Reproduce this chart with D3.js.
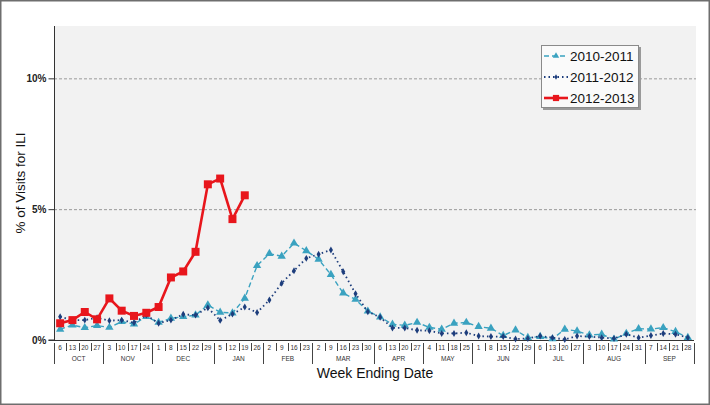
<!DOCTYPE html>
<html>
<head>
<meta charset="utf-8">
<script src="https://d3js.org/d3.v7.min.js"></script>
<style>
  body { margin: 0; background: #fff; }
  svg { display: block; font-family: "Liberation Sans", Arial, sans-serif; }
</style>
</head>
<body>
<script>
// week ending days, Oct -> Sep
var weekDays = [6, 13, 20, 27, 3, 10, 17, 24, 1, 8, 15, 22, 29, 5, 12, 19, 26, 2, 9, 16, 23,
  2, 9, 16, 23, 30, 6, 13, 20, 27, 4, 11, 18, 25, 1, 8, 15, 22, 29, 6, 13, 20, 27,
  3, 10, 17, 24, 31, 7, 14, 21, 28];
var monthNames = ["OCT", "NOV", "DEC", "JAN", "FEB", "MAR", "APR", "MAY", "JUN", "JUL", "AUG", "SEP"];
var monthWeeks = [4, 4, 5, 4, 4, 5, 4, 4, 5, 4, 5, 4];

var seasons = ["2010-2011", "2011-2012", "2012-2013"];

var s2010 = [0.41, 0.57, 0.47, 0.55, 0.48, 0.70, 0.61, 0.89, 0.67, 0.83, 0.89, 0.95, 1.34,
  1.06, 1.03, 1.59, 2.84, 3.30, 3.20, 3.70, 3.41, 3.08, 2.50, 1.79, 1.55, 1.10, 0.88,
  0.60, 0.56, 0.67, 0.48, 0.41, 0.64, 0.67, 0.51, 0.45, 0.17, 0.38, 0.09, 0.13, 0.04,
  0.41, 0.34, 0.19, 0.22, 0.03, 0.25, 0.43, 0.42, 0.47, 0.32, 0.09];
var s2011 = [0.89, 0.76, 0.76, 0.85, 0.74, 0.76, 0.66, 0.95, 0.64, 0.76, 0.98, 0.95, 1.23,
  0.75, 0.99, 1.26, 1.05, 1.53, 2.17, 2.65, 3.12, 3.28, 3.44, 2.61, 1.77, 1.08, 0.87,
  0.46, 0.46, 0.37, 0.35, 0.25, 0.25, 0.28, 0.15, 0.13, 0.13, 0.04, 0.06, 0.15, 0.09,
  0.02, 0.15, 0.13, 0.09, 0.06, 0.22, 0.09, 0.17, 0.25, 0.22, 0.09];
var s2012 = [0.64, 0.76, 1.07, 0.79, 1.59, 1.12, 0.92, 1.04, 1.26, 2.39, 2.62, 3.37, 5.95,
  6.17, 4.62, 5.53];

var yTicks = [0, 5, 10];

var W = 710, H = 405;
var plot = { left: 54, right: 694, top: 26, bottom: 340 };

var svg = d3.select("body").append("svg")
    .attr("width", W)
    .attr("height", H);

// outer frame
svg.append("rect")
    .attr("x", 0.75).attr("y", 0.75)
    .attr("width", W - 1.5).attr("height", H - 1.5)
    .style("fill", "#fff")
    .style("stroke", "#6e6e6e")
    .style("stroke-width", 1.5);

var x = d3.scaleBand()
    .domain(d3.range(weekDays.length))
    .range([plot.left, plot.right]);

var y = d3.scaleLinear()
    .domain([0, 12])
    .range([plot.bottom, plot.top]);

// plot background
svg.append("rect")
    .attr("x", plot.left).attr("y", plot.top)
    .attr("width", plot.right + 2 - plot.left)
    .attr("height", plot.bottom - plot.top)
    .style("fill", "#f2f2f2");

// dashed gridlines
svg.selectAll(".grid")
    .data(yTicks.filter(function(d) { return d > 0; }))
    .enter().append("line")
    .attr("x1", plot.left).attr("x2", plot.right + 2)
    .attr("y1", function(d) { return y(d) + 0.5; })
    .attr("y2", function(d) { return y(d) + 0.5; })
    .style("stroke", "#9a9a9a")
    .style("stroke-dasharray", "3,2")
    .style("stroke-width", 1);

// y axis
var yAxis = d3.axisLeft(y)
    .tickValues(yTicks)
    .tickSize(6)
    .tickFormat(function(d) { return d + "%"; });
var gy = svg.append("g")
    .attr("transform", "translate(" + (plot.left + 0.5) + ",0)")
    .call(yAxis);
gy.select(".domain").attr("d", "M-6," + y(0) + "H0V" + plot.top).style("stroke", "#333");
gy.selectAll(".tick line").style("stroke", "#333");
gy.selectAll(".tick text")
    .attr("x", -8)
    .style("font-size", "10px")
    .style("font-weight", "bold")
    .style("fill", "#222")
    .style("font-family", "'Liberation Sans', Arial, sans-serif");

// x axis: week cells
var gx = svg.append("g");
gx.append("line")
    .attr("x1", plot.left).attr("x2", plot.right)
    .attr("y1", plot.bottom + 0.5).attr("y2", plot.bottom + 0.5)
    .style("stroke", "#333");

var monthStart = [];
var acc = 0;
monthWeeks.forEach(function(n) { monthStart.push(acc); acc += n; });

var isMonthEdge = function(i) { return i === 0 || i === weekDays.length || monthStart.indexOf(i) >= 0; };

gx.selectAll(".sep")
    .data(d3.range(weekDays.length + 1))
    .enter().append("line")
    .attr("x1", function(i) { return Math.round(plot.left + i * x.step()) + 0.5; })
    .attr("x2", function(i) { return Math.round(plot.left + i * x.step()) + 0.5; })
    .attr("y1", plot.bottom + 3)
    .attr("y2", function(i) { return isMonthEdge(i) ? plot.bottom + 24 : plot.bottom + 11; })
    .style("stroke", "#444")
    .style("stroke-width", 1);

gx.selectAll(".day")
    .data(weekDays)
    .enter().append("text")
    .attr("x", function(d, i) { return x(i) + x.bandwidth() / 2; })
    .attr("y", plot.bottom + 9.5)
    .attr("text-anchor", "middle")
    .style("font-size", "6.5px")
    .style("fill", "#333")
    .text(function(d) { return d; });

gx.selectAll(".month")
    .data(monthNames)
    .enter().append("text")
    .attr("x", function(d, i) { return plot.left + (monthStart[i] + monthWeeks[i] / 2) * x.step(); })
    .attr("y", plot.bottom + 20.5)
    .attr("text-anchor", "middle")
    .style("font-size", "6.5px")
    .style("fill", "#333")
    .text(function(d) { return d; });

// axis titles
svg.append("text")
    .attr("x", (plot.left + plot.right) / 2 + 1)
    .attr("y", 378)
    .attr("text-anchor", "middle")
    .style("font-size", "14px")
    .style("fill", "#111")
    .text("Week Ending Date");

svg.append("text")
    .attr("transform", "translate(25," + ((plot.top + plot.bottom) / 2) + ") rotate(-90)")
    .attr("text-anchor", "middle")
    .style("font-size", "13.5px")
    .style("fill", "#111")
    .text("% of Visits for ILI");

// series styles
var styles = [
  { name: seasons[0], data: s2010, color: "#3aa2c0", width: 1.4, dash: "5,3", marker: "triangle", size: 30 },
  { name: seasons[1], data: s2011, color: "#1d3d7c", width: 1.8, dash: "1.5,3", marker: "diamond", size: 14 },
  { name: seasons[2], data: s2012, color: "#e8161c", width: 2.6, dash: null, marker: "square", size: 64 }
];
var symbolFor = {
  triangle: d3.symbolTriangle,
  diamond: d3.symbolDiamond,
  square: d3.symbolSquare
};

var line = d3.line()
    .x(function(d, i) { return x(i) + x.bandwidth() / 2; })
    .y(function(d) { return y(d); });

styles.forEach(function(s) {
  var g = svg.append("g");
  g.append("path")
      .datum(s.data)
      .attr("d", line)
      .style("fill", "none")
      .style("stroke", s.color)
      .style("stroke-width", s.width)
      .style("stroke-dasharray", s.dash);
  g.selectAll("path.pt")
      .data(s.data)
      .enter().append("path")
      .attr("class", "pt")
      .attr("transform", function(d, i) { return "translate(" + (x(i) + x.bandwidth() / 2) + "," + y(d) + ")"; })
      .attr("d", d3.symbol().type(symbolFor[s.marker]).size(s.size))
      .style("fill", s.color);
});

// legend
var leg = svg.append("g").attr("transform", "translate(541,45)");
leg.append("rect")
    .attr("x", 2).attr("y", 2).attr("width", 98).attr("height", 63)
    .style("fill", "#9a9a9a");
leg.append("rect")
    .attr("x", 0.5).attr("y", 0.5).attr("width", 97).attr("height", 62)
    .style("fill", "#fafafa")
    .style("stroke", "#8a8a8a");

var items = leg.selectAll(".item")
    .data(styles)
    .enter().append("g")
    .attr("transform", function(d, i) { return "translate(0," + (11 + i * 21) + ")"; });
items.append("line")
    .attr("x1", 3).attr("x2", 27)
    .style("stroke", function(d) { return d.color; })
    .style("stroke-width", function(d) { return d.width; })
    .style("stroke-dasharray", function(d) { return d.dash; });
items.append("path")
    .attr("transform", "translate(15,0)")
    .attr("d", function(d) { return d3.symbol().type(symbolFor[d.marker]).size(d.size * 0.6)(); })
    .style("fill", function(d) { return d.color; });
items.append("text")
    .attr("x", 29)
    .attr("y", 5)
    .style("font-size", "13.5px")
    .style("fill", "#111")
    .text(function(d) { return d.name; });
</script>
</body>
</html>
